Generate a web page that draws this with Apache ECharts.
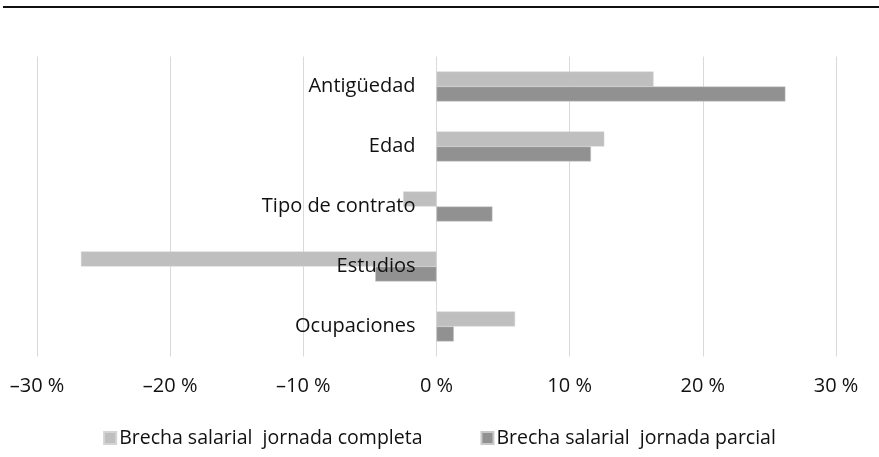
<!DOCTYPE html>
<html>
<head>
<meta charset="utf-8">
<script src="https://cdn.jsdelivr.net/npm/echarts@6/dist/echarts.min.js"></script>
<style>
  html, body { margin: 0; padding: 0; background: #fff; }
  #chart { width: 879px; height: 457px; }
</style>
</head>
<body>
<div id="chart"></div>
<script>
  // categorias, de arriba a abajo
  var categorias = ['Antigüedad', 'Edad', 'Tipo de contrato', 'Estudios', 'Ocupaciones'];
  var completa = [16.3, 12.6, -2.5, -26.7, 5.9];
  var parcial = [26.2, 11.6, 4.2, -4.6, 1.3];
  var nombres = ['Brecha salarial  jornada completa', 'Brecha salarial  jornada parcial'];

  var fuente = 'Open Sans';
  var izquierda = 37;
  var chart = echarts.init(document.getElementById('chart'));

  var options = {
    animation: false,
    textStyle: { fontFamily: fuente },
    graphic: [{
      type: 'rect',
      shape: { x: 3, y: 6, width: 876, height: 2 },
      style: { fill: '#111' }
    }],
    grid: {
      left: izquierda,
      right: 43,
      top: 56.5,
      bottom: 100.5,
      containLabel: false,
      outerBoundsMode: 'none'
    },
    legend: {
      bottom: 4,
      left: 'center',
      itemWidth: 12,
      itemHeight: 12,
      itemGap: 58,
      icon: 'rect',
      textStyle: { fontFamily: fuente, fontSize: 19.5, color: '#111', padding: [0, 0, 0, -2] },
      data: nombres
    },
    xAxis: {
      type: 'value',
      min: -30,
      max: 30,
      interval: 10,
      axisLine: { show: false },
      axisTick: { show: false },
      splitLine: { lineStyle: { color: '#d9d9d9', width: 1 } },
      axisLabel: {
        margin: 20,
        fontFamily: fuente,
        fontSize: 20,
        color: '#111',
        formatter: function (v) {
          return (v < 0 ? '–' + Math.abs(v) : v) + ' %';
        }
      }
    },
    yAxis: {
      type: 'category',
      inverse: true,
      z: 5,
      data: categorias,
      axisLine: { show: false, onZero: false },
      axisTick: { show: false },
      axisLabel: {
        margin: 21,
        padding: [5, 0, 0, 0],
        fontFamily: fuente,
        fontSize: 20,
        color: '#111'
      }
    },
    series: [{
      name: nombres[0],
      type: 'bar',
      barWidth: 15,
      barGap: '0%',
      itemStyle: { color: '#bfbfbf', borderColor: '#d4d4d4', borderWidth: 0.5 },
      data: completa
    }, {
      name: nombres[1],
      type: 'bar',
      barWidth: 15,
      itemStyle: { color: '#919191', borderColor: '#c8c8c8', borderWidth: 0.5 },
      data: parcial
    }]
  };

  chart.setOption(options, true);

  // las etiquetas de categoria van pegadas al 0, no al borde
  var cero = chart.convertToPixel({ xAxisIndex: 0 }, 0);
  chart.setOption({ yAxis: { offset: -(cero - izquierda) } });

  window.addEventListener('resize', function () {
    chart.resize();
  });
</script>
</body>
</html>
